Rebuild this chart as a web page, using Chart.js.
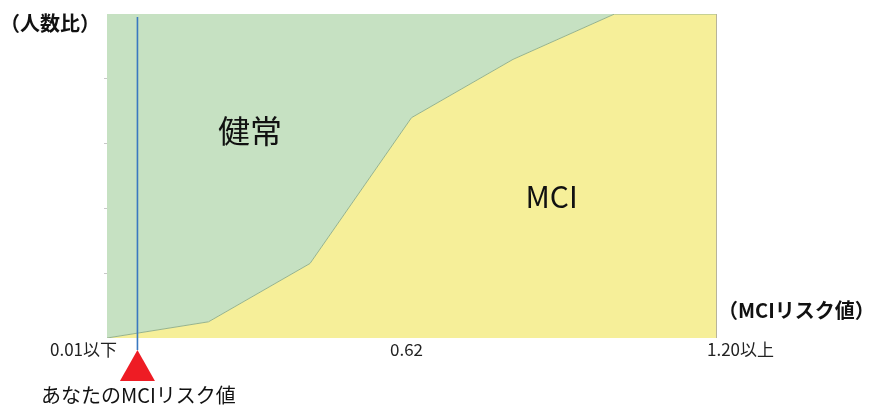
<!DOCTYPE html>
<html><head><meta charset="utf-8">
<script src="https://cdn.jsdelivr.net/npm/chart.js@4"></script>
<style>html,body{margin:0;padding:0;background:#fff}#wrap{width:870px;height:408px}</style>
</head><body><div id="wrap"><canvas id="c" width="870" height="408"></canvas></div>
<script>
// ---- data ----
const categories = ['0.01以下', '', '', '0.62', '', '', '1.20以上'];
const mciShare = [0, 0.05, 0.23, 0.68, 0.86, 1, 1];      // MCI fraction (from bottom)
const totalShare = [1, 1, 1, 1, 1, 1, 1];                 // top of healthy area
const yourIndex = 0.3;                                     // position of "your" value on the x axis
const yTicks = [0, 0.2, 0.4, 0.6, 0.8, 1];
const areaLabels = [{text:'健常', x:1.41, y:0.64, size:32}, {text:'MCI', x:4.38, y:0.435, size:30}];

const FONT = '"Noto Sans CJK JP", "Noto Sans", sans-serif';

const overlay = {
  id: 'overlay',
  afterDatasetsDraw(chart) {
    const ctx = chart.ctx, xs = chart.scales.x, ys = chart.scales.y, a = chart.chartArea;
    ctx.save();
    // area labels
    ctx.fillStyle = '#111';
    ctx.textAlign = 'center'; ctx.textBaseline = 'middle';
    areaLabels.forEach(l => {
      ctx.font = l.size + 'px ' + FONT;
      ctx.fillText(l.text, xs.getPixelForValue(l.x), ys.getPixelForValue(l.y));
    });
    // your value marker
    const px = xs.getPixelForValue(yourIndex);
    ctx.strokeStyle = '#3a78c0'; ctx.lineWidth = 1.6;
    ctx.beginPath(); ctx.moveTo(px, a.top + 3); ctx.lineTo(px, a.bottom + 12); ctx.stroke();
    ctx.fillStyle = '#ee1c24';
    ctx.beginPath(); ctx.moveTo(px, a.bottom + 12); ctx.lineTo(px + 17.5, a.bottom + 43); ctx.lineTo(px - 17.5, a.bottom + 43); ctx.closePath(); ctx.fill();
    // right border
    ctx.strokeStyle = '#b8b49a'; ctx.lineWidth = 1;
    ctx.beginPath(); ctx.moveTo(a.right + 0.5, a.top); ctx.lineTo(a.right + 0.5, a.bottom); ctx.stroke();
    // x labels
    ctx.fillStyle = '#222'; ctx.font = '17px ' + FONT; ctx.textBaseline = 'middle';
    const n = categories.length;
    categories.forEach((t, i) => {
      if (!t) return;
      const x = xs.getPixelForValue(i);
      if (i === 0) { ctx.textAlign = 'right'; ctx.fillText(t, x + 10, a.bottom + 12); }
      else if (i === n - 1) { ctx.textAlign = 'left'; ctx.fillText(t, x - 9, a.bottom + 12); }
      else { ctx.textAlign = 'center'; ctx.fillText(t, x - 5, a.bottom + 12); }
    });
    // axis titles
    ctx.fillStyle = '#111';
    ctx.font = 'bold 20px ' + FONT; ctx.textAlign = 'left';
    ctx.fillText('（人数比）', 0, a.top + 9);
    ctx.fillText('（MCIリスク値）', a.right + 2, a.bottom - 28);
    ctx.font = '20px ' + FONT;
    ctx.fillText('あなたのMCIリスク値', 41, a.bottom + 57);
    ctx.restore();
  }
};

new Chart(document.getElementById('c'), {
  type: 'line',
  data: {
    labels: categories,
    datasets: [
      { label: 'MCI', data: mciShare, fill: 'origin', backgroundColor: '#f6ef99',
        borderColor: '#95b38f', borderWidth: 1, pointRadius: 0, tension: 0 },
      { label: '健常', data: totalShare, fill: '-1', backgroundColor: '#c6e1c2',
        borderWidth: 0, borderColor: 'rgba(0,0,0,0)', pointRadius: 0, tension: 0 }
    ]
  },
  options: {
    responsive: false, animation: false,
    layout: { padding: { left: 103, right: 154, top: 14, bottom: 70 } },
    plugins: { legend: { display: false }, tooltip: { enabled: false } },
    scales: {
      x: { type: 'category', display: false, offset: false },
      y: { min: 0, max: 1,
        afterBuildTicks: s => { s.ticks = yTicks.map(v => ({ value: v })); },
        afterFit: s => { s.width = 4; },
        ticks: { display: false },
        border: { display: false },
        grid: { drawOnChartArea: false, tickLength: 3,
          color: c => (c.tick && (c.tick.value === 0 || c.tick.value === 1)) ? 'rgba(0,0,0,0)' : '#c8c8c8' } }
    }
  },
  plugins: [overlay]
});
</script></body></html>
